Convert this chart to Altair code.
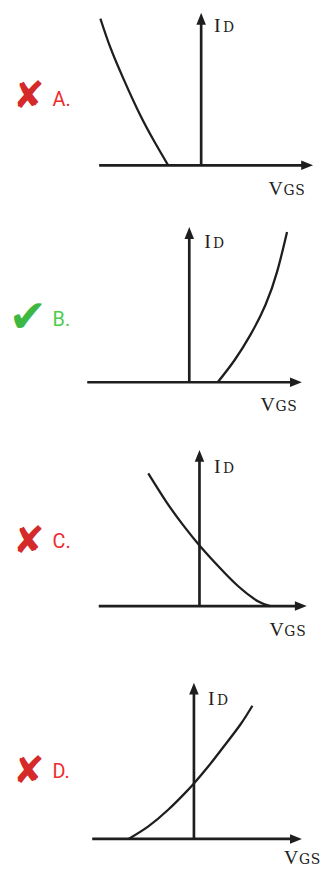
import altair as alt
import pandas as pd

# ---------------- data (diagram units, origin = axes crossing) ----------------
OPTIONS = ["A.", "B.", "C.", "D."]
VERDICT = ["✘", "✔", "✘", "✘"]
VERDICT_COLOR = ["#d42a2a", "#3db843", "#d42a2a", "#d42a2a"]
VERDICT_SIZE = [38, 46, 38, 38]
LABEL_COLOR = ["#ee2b2e", "#4ccd4c", "#ee2b2e", "#ee2b2e"]

CURVE_VGS = [
    [-10.17, -9.17, -7.83, -6.17, -4.67, -3.33],
    [2.87, 4.53, 6.2, 7.7, 8.87, 9.87],
    [-5.17, -3.33, -1.67, 0.0, 2.0, 4.0, 6.0, 7.17],
    [-6.6, -4.6, -2.6, -0.93, 0.0, 1.4, 3.07, 4.73, 5.9],
]
CURVE_ID = [
    [14.8, 11.9, 8.7, 5.1, 2.3, 0.0],
    [0.0, 2.17, 4.83, 7.83, 11.17, 15.17],
    [13.4, 10.5, 8.2, 6.13, 3.93, 1.93, 0.43, 0.0],
    [0.0, 1.27, 2.94, 4.6, 5.6, 7.25, 9.4, 11.6, 13.44],
]

AXIS_X_START = [-10.3, -10.3, -10.17, -10.27]
AXIS_X_TIP = [11.3, 11.37, 10.83, 10.9]
AXIS_Y_TIP = [15.4, 15.67, 15.77, 15.77]

ID_LABEL_POS = [(1.3, 13.44), (1.5, 13.57), (1.47, 13.47), (1.43, 13.47)]
VGS_LABEL_POS = [(6.8, -3.03), (7.2, -2.93), (7.07, -3.03), (9.1, -2.53)]
VERDICT_POS = [(-17.4, 6.87), (-16.3, 6.47), (-17.23, 6.47), (-16.67, 6.77)]
OPTION_POS = [(-15.0, 6.57), (-13.8, 6.27), (-14.83, 6.47), (-14.27, 6.77)]

X_DOMAIN = [[-19.2, 12.3], [-18.0, 13.5], [-19.03, 12.47], [-18.47, 13.03]]
Y_DOMAIN = [[-6.03, 15.47], [-5.63, 15.87], [-4.53, 16.97], [-2.63, 18.97]]
PANEL_W = 315
PANEL_H = [215, 215, 215, 216]

INK = "#1e1e1e"
ARROW_RIGHT = "M-2,-0.8L0,0L-2,0.8Z"
ARROW_UP = "M-0.8,2L0,0L0.8,2Z"


def panel(i):
    xs = alt.Scale(domain=X_DOMAIN[i], nice=False, zero=False)
    ys = alt.Scale(domain=Y_DOMAIN[i], nice=False, zero=False)

    def X(f):
        return alt.X(f, type="quantitative", scale=xs, axis=None)

    def Y(f):
        return alt.Y(f, type="quantitative", scale=ys, axis=None)

    layers = []

    axes_df = pd.DataFrame({
        "x": [AXIS_X_START[i], 0.0],
        "y": [0.0, 0.0],
        "x2": [AXIS_X_TIP[i] - 0.8, 0.0],
        "y2": [0.0, AXIS_Y_TIP[i] - 0.8],
    })
    layers.append(alt.Chart(axes_df).mark_rule(color=INK, strokeWidth=2.7).encode(
        x=X("x"), y=Y("y"), x2="x2", y2="y2"))

    layers.append(alt.Chart(pd.DataFrame({"x": [AXIS_X_TIP[i]], "y": [0.0]})).mark_point(
        shape=ARROW_RIGHT, filled=True, size=144, color=INK, opacity=1, strokeWidth=0
    ).encode(x=X("x"), y=Y("y")))
    layers.append(alt.Chart(pd.DataFrame({"x": [0.0], "y": [AXIS_Y_TIP[i]]})).mark_point(
        shape=ARROW_UP, filled=True, size=144, color=INK, opacity=1, strokeWidth=0
    ).encode(x=X("x"), y=Y("y")))

    curve_df = pd.DataFrame({"vgs": CURVE_VGS[i], "id": CURVE_ID[i]})
    layers.append(alt.Chart(curve_df).mark_line(
        color=INK, strokeWidth=2.3, interpolate="natural"
    ).encode(x=X("vgs"), y=Y("id")))

    def text(pos, t, **kw):
        df = pd.DataFrame({"x": [pos[0]], "y": [pos[1]], "t": [t]})
        return alt.Chart(df).mark_text(**kw).encode(x=X("x"), y=Y("y"), text="t:N")

    serif_big = dict(font="Liberation Serif", fontSize=20, color=INK, align="left", baseline="alphabetic")
    serif_sub = dict(font="DejaVu Serif", fontSize=14, color=INK, align="left", baseline="alphabetic")
    layers.append(text(ID_LABEL_POS[i], "I", **serif_big))
    layers.append(text(ID_LABEL_POS[i], "D", dx=9, **serif_sub))
    layers.append(text(VGS_LABEL_POS[i], "V", **serif_big))
    layers.append(text(VGS_LABEL_POS[i], "G", dx=15, **serif_sub))
    layers.append(text(VGS_LABEL_POS[i], "S", dx=27, **serif_sub))

    layers.append(text(VERDICT_POS[i], VERDICT[i], font="DejaVu Sans", fontSize=VERDICT_SIZE[i],
                       color=VERDICT_COLOR[i], align="center", baseline="middle"))
    layers.append(text(OPTION_POS[i], OPTIONS[i], font="Roboto", fontSize=20,
                       color=LABEL_COLOR[i], align="left", baseline="middle"))

    return alt.layer(*layers).properties(width=PANEL_W, height=PANEL_H[i])


chart = alt.vconcat(*[panel(i) for i in range(4)], spacing=0).properties(
    padding=0
).configure_view(stroke=None).configure_concat(spacing=0)

chart.save("out.html", embed_options={"renderer": "svg", "actions": False})
